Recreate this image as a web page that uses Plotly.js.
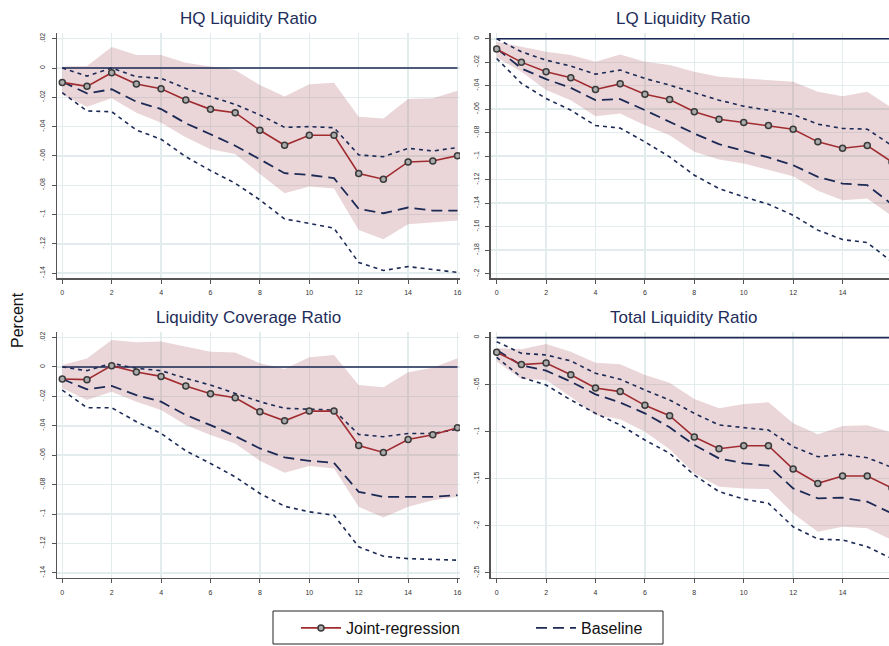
<!DOCTYPE html>
<html>
<head>
<meta charset="utf-8">
<script src="https://cdn.plot.ly/plotly-3.0.1.min.js"></script>
<style>html,body{margin:0;padding:0;background:#fff;}#chart{width:889px;height:646px;}</style>
</head>
<body>
<div id="chart"></div>
<script>
// ---------- data ----------
const horizons = [0,1,2,3,4,5,6,7,8,9,10,11,12,13,14,15,16];
const xTickVals = [0,2,4,6,8,10,12,14,16];

const panelTitles = ["HQ Liquidity Ratio", "LQ Liquidity Ratio", "Liquidity Coverage Ratio", "Total Liquidity Ratio"];
const yAxisTitle = "Percent";
const legendJoint = "Joint-regression";
const legendBase = "Baseline";

// HQ Liquidity Ratio
const hqJoint      = [-0.0098,-0.0125,-0.0032,-0.0109,-0.0141,-0.0218,-0.0282,-0.0305,-0.0425,-0.0527,-0.0459,-0.0459,-0.0720,-0.0759,-0.0641,-0.0634,-0.0598];
const hqJointUpper = [0.0010,0.0014,0.0143,0.0089,0.0089,0.0036,0.0010,-0.0014,-0.0116,-0.0195,-0.0110,-0.0100,-0.0332,-0.0345,-0.0211,-0.0207,-0.0155];
const hqJointLower = [-0.0180,-0.0264,-0.0207,-0.0305,-0.0373,-0.0473,-0.0555,-0.0586,-0.0723,-0.0855,-0.0809,-0.0823,-0.1105,-0.1168,-0.1066,-0.1055,-0.1041];
const hqBase       = [-0.0093,-0.0173,-0.0145,-0.0230,-0.0280,-0.0377,-0.0452,-0.0530,-0.0623,-0.0718,-0.0730,-0.0752,-0.0961,-0.0991,-0.0952,-0.0973,-0.0973];
const hqBaseUpper  = [0.0000,-0.0055,0.0000,-0.0059,-0.0070,-0.0139,-0.0195,-0.0248,-0.0320,-0.0405,-0.0400,-0.0407,-0.0593,-0.0605,-0.0548,-0.0566,-0.0543];
const hqBaseLower  = [-0.0168,-0.0293,-0.0298,-0.0423,-0.0486,-0.0605,-0.0700,-0.0786,-0.0900,-0.1030,-0.1060,-0.1093,-0.1327,-0.1382,-0.1355,-0.1377,-0.1395];
const hqTickVals   = [0.02,0,-0.02,-0.04,-0.06,-0.08,-0.1,-0.12,-0.14];
const hqTickText   = [".02","0","-.02","-.04","-.06","-.08","-.1","-.12","-.14"];

// LQ Liquidity Ratio
const lqJoint      = [-0.0088,-0.0199,-0.0281,-0.0332,-0.0432,-0.0384,-0.0472,-0.0517,-0.0622,-0.0685,-0.0713,-0.0739,-0.0770,-0.0878,-0.0932,-0.0909,-0.1050];
const lqJointUpper = [-0.0026,-0.0068,-0.0111,-0.0139,-0.0196,-0.0134,-0.0196,-0.0224,-0.0281,-0.0324,-0.0338,-0.0352,-0.0366,-0.0452,-0.0489,-0.0452,-0.0590];
const lqJointLower = [-0.0160,-0.0280,-0.0437,-0.0523,-0.0659,-0.0636,-0.0736,-0.0821,-0.0963,-0.1028,-0.1062,-0.1114,-0.1170,-0.1295,-0.1375,-0.1361,-0.1510];
const lqBase       = [-0.0082,-0.0253,-0.0344,-0.0418,-0.0523,-0.0514,-0.0608,-0.0707,-0.0807,-0.0898,-0.0955,-0.1011,-0.1077,-0.1176,-0.1233,-0.1247,-0.1410];
const lqBaseUpper  = [0.0000,-0.0111,-0.0182,-0.0233,-0.0301,-0.0267,-0.0338,-0.0395,-0.0460,-0.0523,-0.0574,-0.0608,-0.0645,-0.0727,-0.0764,-0.0770,-0.0910];
const lqBaseLower  = [-0.0168,-0.0380,-0.0509,-0.0608,-0.0739,-0.0761,-0.0878,-0.1006,-0.1162,-0.1276,-0.1347,-0.1409,-0.1503,-0.1630,-0.1710,-0.1736,-0.1900];
const lqTickVals   = [0,-0.02,-0.04,-0.06,-0.08,-0.1,-0.12,-0.14,-0.16,-0.18,-0.2];
const lqTickText   = ["0","-.02","-.04","-.06","-.08","-.1","-.12","-.14","-.16","-.18","-.2"];

// Liquidity Coverage Ratio
const lcJoint      = [-0.0082,-0.0086,0.0009,-0.0034,-0.0064,-0.0129,-0.0182,-0.0209,-0.0304,-0.0366,-0.0300,-0.0300,-0.0534,-0.0581,-0.0493,-0.0461,-0.0413];
const lcJointUpper = [0.0014,0.0057,0.0184,0.0168,0.0173,0.0138,0.0104,0.0098,0.0025,-0.0014,0.0066,0.0082,-0.0123,-0.0138,-0.0036,-0.0005,0.0059];
const lcJointLower = [-0.0145,-0.0225,-0.0168,-0.0236,-0.0293,-0.0395,-0.0463,-0.0520,-0.0638,-0.0720,-0.0674,-0.0690,-0.0951,-0.1024,-0.0951,-0.0906,-0.0883];
const lcBase       = [-0.0082,-0.0152,-0.0129,-0.0191,-0.0236,-0.0327,-0.0395,-0.0470,-0.0554,-0.0615,-0.0638,-0.0652,-0.0849,-0.0883,-0.0883,-0.0883,-0.0872];
const lcBaseUpper  = [0.0000,-0.0025,0.0025,-0.0009,-0.0025,-0.0077,-0.0123,-0.0180,-0.0236,-0.0281,-0.0288,-0.0293,-0.0459,-0.0474,-0.0452,-0.0452,-0.0424];
const lcBaseLower  = [-0.0157,-0.0277,-0.0277,-0.0372,-0.0452,-0.0570,-0.0656,-0.0747,-0.0860,-0.0947,-0.0985,-0.1008,-0.1223,-0.1287,-0.1303,-0.1310,-0.1314];
const lcTickVals   = hqTickVals;
const lcTickText   = hqTickText;

// Total Liquidity Ratio
const tlJoint      = [-0.0156,-0.0287,-0.0270,-0.0394,-0.0535,-0.0574,-0.0720,-0.0830,-0.1057,-0.1181,-0.1149,-0.1149,-0.1397,-0.1550,-0.1472,-0.1472,-0.1600];
const tlJointUpper = [-0.0110,-0.0124,-0.0067,-0.0149,-0.0266,-0.0284,-0.0397,-0.0479,-0.0652,-0.0752,-0.0706,-0.0688,-0.0911,-0.1028,-0.0940,-0.0933,-0.1010];
const tlJointLower = [-0.0255,-0.0440,-0.0450,-0.0628,-0.0823,-0.0869,-0.1000,-0.1188,-0.1443,-0.1585,-0.1603,-0.1610,-0.1869,-0.2064,-0.2011,-0.2028,-0.2150];
const tlBase       = [-0.0131,-0.0294,-0.0351,-0.0468,-0.0603,-0.0691,-0.0805,-0.0954,-0.1142,-0.1284,-0.1337,-0.1362,-0.1603,-0.1709,-0.1702,-0.1745,-0.1870];
const tlBaseUpper  = [-0.0043,-0.0167,-0.0184,-0.0248,-0.0379,-0.0443,-0.0557,-0.0663,-0.0805,-0.0929,-0.0957,-0.0982,-0.1160,-0.1266,-0.1241,-0.1277,-0.1380];
const tlBaseLower  = [-0.0209,-0.0422,-0.0504,-0.0663,-0.0805,-0.0929,-0.1089,-0.1230,-0.1461,-0.1638,-0.1716,-0.1762,-0.2011,-0.2142,-0.2152,-0.2223,-0.2350];
const tlTickVals   = [0,-0.05,-0.1,-0.15,-0.2,-0.25];
const tlTickText   = ["0","-.05","-.1","-.15","-.2","-.25"];

// ---------- styling ----------
const RED = "#a02c30";
const NAVY = "#1c2a55";
const BAND = "rgba(170,90,105,0.25)";
const GRID = "#e3ecec";
const AXIS = "#555555";
const FONT = "Liberation Sans, Arial, Helvetica, sans-serif";
const W = 889, H = 646;

const panels = [
  {joint:hqJoint, ju:hqJointUpper, jl:hqJointLower, base:hqBase, bu:hqBaseUpper, bl:hqBaseLower, tv:hqTickVals, tt:hqTickText,
   xdom:[0.0645,0.5174], ydom:[0.5692,0.9489], xr:[-0.2,16.1], yr:[-0.1435,0.0239], tx:0.279, ty:0.972},
  {joint:lqJoint, ju:lqJointUpper, jl:lqJointLower, base:lqBase, bu:lqBaseUpper, bl:lqBaseLower, tv:lqTickVals, tt:lqTickText,
   xdom:[0.5523,1.0], ydom:[0.5692,0.9489], xr:[-0.23,15.88], yr:[-0.204,0.0049], tx:0.768, ty:0.972},
  {joint:lcJoint, ju:lcJointUpper, jl:lcJointLower, base:lcBase, bu:lcBaseUpper, bl:lcBaseLower, tv:lcTickVals, tt:lcTickText,
   xdom:[0.0645,0.5174], ydom:[0.1057,0.4861], xr:[-0.2,16.1], yr:[-0.1433,0.0238], tx:0.280, ty:0.509},
  {joint:tlJoint, ju:tlJointUpper, jl:tlJointLower, base:tlBase, bu:tlBaseUpper, bl:tlBaseLower, tv:tlTickVals, tt:tlTickText,
   xdom:[0.5523,1.0], ydom:[0.1057,0.4861], xr:[-0.23,15.88], yr:[-0.2553,0.006], tx:0.769, ty:0.509}
];

const traces = [];
const layout = {
  width: W, height: H,
  margin: {l:0, r:0, t:0, b:0},
  paper_bgcolor: "#ffffff", plot_bgcolor: "#ffffff",
  font: {family: FONT, color: "#333"},
  showlegend: true,
  legend: {orientation:"h", traceorder:"normal", x:296/W, xanchor:"left", y:1 - 611/H, yanchor:"top",
           borderwidth:0, bgcolor:"rgba(0,0,0,0)",
           font:{size:16, color:"#111", family:FONT}, itemwidth:40, entrywidth:180},
  shapes: [{type:"rect", xref:"paper", yref:"paper", x0:273/W, x1:663/W, y0:1 - 644/H, y1:1 - 611/H,
            line:{color:"#222", width:1}, fillcolor:"rgba(0,0,0,0)", layer:"below"}],
  annotations: [],
};

panels.forEach((p, i) => {
  const n = i + 1;
  const xa = "x" + (n === 1 ? "" : n);
  const ya = "y" + (n === 1 ? "" : n);
  const xk = "xaxis" + (n === 1 ? "" : n);
  const yk = "yaxis" + (n === 1 ? "" : n);

  // confidence band of joint regression
  traces.push({x: horizons, y: p.ju, xaxis: xa, yaxis: ya, mode: "lines",
    line: {width: 0, color: BAND}, showlegend: false, hoverinfo: "skip"});
  traces.push({x: horizons, y: p.jl, xaxis: xa, yaxis: ya, mode: "lines", fill: "tonexty",
    fillcolor: BAND, line: {width: 0, color: BAND}, showlegend: false, hoverinfo: "skip"});
  // zero reference line
  traces.push({x: horizons, y: horizons.map(() => 0), xaxis: xa, yaxis: ya, mode: "lines",
    line: {color: NAVY, width: 1.6}, showlegend: false, hoverinfo: "skip"});
  // baseline bands
  traces.push({x: horizons, y: p.bu, xaxis: xa, yaxis: ya, mode: "lines",
    line: {color: NAVY, width: 1.6, dash: "4px,4px"}, showlegend: false});
  traces.push({x: horizons, y: p.bl, xaxis: xa, yaxis: ya, mode: "lines",
    line: {color: NAVY, width: 1.6, dash: "4px,4px"}, showlegend: false});
  // baseline
  traces.push({x: horizons, y: p.base, xaxis: xa, yaxis: ya, mode: "lines", name: legendBase,
    line: {color: NAVY, width: 1.8, dash: "11px,6px"}, showlegend: i === 0, legendrank: 2});
  // joint regression
  traces.push({x: horizons, y: p.joint, xaxis: xa, yaxis: ya, mode: "lines+markers", name: legendJoint,
    line: {color: RED, width: 1.6},
    marker: {symbol: "circle", size: 6, color: "#ababab", line: {color: "#3a3a3a", width: 1.5}},
    showlegend: i === 0, legendrank: 1});

  layout[xk] = {domain: p.xdom, range: p.xr, anchor: ya, tickvals: xTickVals,
    ticks: "outside", ticklen: 4, tickwidth: 1, tickcolor: AXIS,
    showline: true, linecolor: AXIS, linewidth: 1.5,
    showgrid: true, gridcolor: GRID, gridwidth: 1.5, zeroline: false,
    tickfont: {size: 7, color: "#333", family: FONT}, ticklabelstandoff: 3, fixedrange: true};
  layout[yk] = {domain: p.ydom, range: p.yr, anchor: xa, tickvals: p.tv, ticktext: p.tt,
    tickangle: -90, ticks: "outside", ticklen: 4, tickwidth: 1, tickcolor: AXIS,
    showline: true, linecolor: AXIS, linewidth: 1.5,
    showgrid: true, gridcolor: GRID, gridwidth: 1.5, zeroline: false,
    tickfont: {size: 7, color: "#333", family: FONT}, ticklabelstandoff: 4, fixedrange: true};

  layout.annotations.push({text: panelTitles[i], xref: "paper", yref: "paper", x: p.tx, y: p.ty,
    xanchor: "center", yanchor: "middle", showarrow: false,
    font: {size: 17, color: "#1e2d5a", family: FONT}});
});

layout.annotations.push({text: yAxisTitle, xref: "paper", yref: "paper", x: 18/W, y: 1 - 320/H,
  xanchor: "center", yanchor: "middle", showarrow: false, textangle: -90,
  font: {size: 16, color: "#111", family: FONT}});

Plotly.newPlot("chart", traces, layout, {displayModeBar: false, staticPlot: true});
</script>
</body>
</html>
